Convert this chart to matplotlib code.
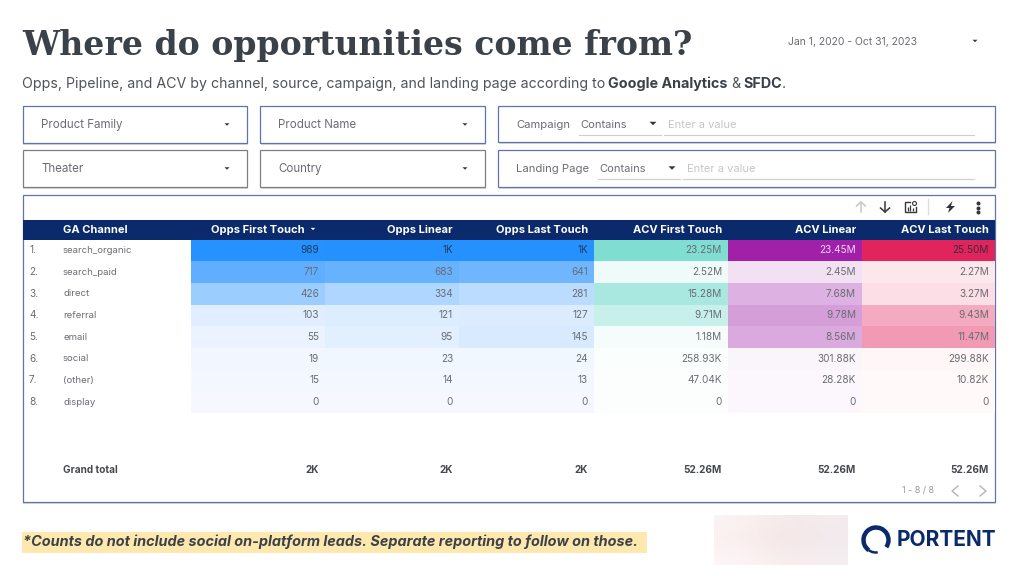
import numpy as np
import matplotlib
matplotlib.use("Agg")
import matplotlib.pyplot as plt
from matplotlib.colors import LinearSegmentedColormap
from matplotlib.patches import Rectangle, Polygon, Arc

# table data
channels = ["search_organic", "search_paid", "direct", "referral", "email", "social", "(other)", "display"]
headers = ["Opps First Touch", "Opps Linear", "Opps Last Touch", "ACV First Touch", "ACV Linear", "ACV Last Touch"]
opps_first = [989, 717, 426, 103, 55, 19, 15, 0]
opps_linear = [1000, 683, 334, 121, 95, 23, 14, 0]
opps_last = [1000, 641, 281, 127, 145, 24, 13, 0]
acv_first = [23.25, 2.52, 15.28, 9.71, 1.18, 0.25893, 0.04704, 0]
acv_linear = [23.45, 2.45, 7.68, 9.78, 8.56, 0.30188, 0.02828, 0]
acv_last = [25.50, 2.27, 3.27, 9.43, 11.47, 0.29988, 0.01082, 0]
opps_first_lab = ["989", "717", "426", "103", "55", "19", "15", "0"]
opps_linear_lab = ["1K", "683", "334", "121", "95", "23", "14", "0"]
opps_last_lab = ["1K", "641", "281", "127", "145", "24", "13", "0"]
acv_first_lab = ["23.25M", "2.52M", "15.28M", "9.71M", "1.18M", "258.93K", "47.04K", "0"]
acv_linear_lab = ["23.45M", "2.45M", "7.68M", "9.78M", "8.56M", "301.88K", "28.28K", "0"]
acv_last_lab = ["25.50M", "2.27M", "3.27M", "9.43M", "11.47M", "299.88K", "10.82K", "0"]
totals = ["2K", "2K", "2K", "52.26M", "52.26M", "52.26M"]

columns = [opps_first, opps_linear, opps_last, acv_first, acv_linear, acv_last]
column_labels = [opps_first_lab, opps_linear_lab, opps_last_lab, acv_first_lab, acv_linear_lab, acv_last_lab]
column_colors = [("#F5F9FF", "#2491FF")] * 3 + [("#FBFEFD", "#7FDDD2"), ("#FBF7FC", "#A020A8"), ("#FFF9FA", "#E2245C")]

# layout in pixels
col_edges = [191, 325, 459, 594, 728, 862, 995]
row_edges = np.linspace(239.5, 413, 9)

BODY = "Inter"
DARK = "#3A4149"
GREY = "#6A6D73"
BLUE = "#5F74A8"
NAVY = "#0B2A6B"
ICON = "#33383E"

fig = plt.figure(figsize=(10.24, 5.76), dpi=100)
ax = fig.add_axes([0, 0, 1, 1])
ax.axis("off")


def label(x, y, s, size=8, color=GREY, ha="left", weight="normal", family=BODY, **kw):
    return ax.text(x, y, s, fontsize=size, color=color, ha=ha, va="center", fontweight=weight, family=family, **kw)


def box(x0, y0, x1, y1, edge=BLUE):
    ax.add_patch(Rectangle((x0 + 0.5, y0 + 1.5), x1 - x0, y1 - y0, fc="#DADADA", ec="none", zorder=1))
    ax.add_patch(Rectangle((x0, y0), x1 - x0, y1 - y0, fc="white", ec=edge, lw=0.9, zorder=2))


def caret(x, y, w=2.5, color=ICON):
    ax.add_patch(Polygon([(x - w, y - w / 2), (x + w, y - w / 2), (x, y + w / 2)], fc=color, ec="none", zorder=5))


def arrow(x, y_tail, y_tip, color):
    head = 4 if y_tip > y_tail else -4
    ax.plot([x, x], [y_tail, y_tip], color=color, lw=1.1, zorder=5)
    ax.plot([x - 4.5, x, x + 4.5], [y_tip - head, y_tip, y_tip - head], color=color, lw=1.1, zorder=5)


# title block
label(22, 45.5, "Where do opportunities come from?", size=23.9, color=DARK, weight="bold", family="DejaVu Serif")
label(22, 84, "Opps, Pipeline, and ACV by channel, source, campaign, and landing page according to", size=10.2, color="#505459")
label(608, 84, "Google Analytics", size=10.3, color=DARK, weight="bold")
label(731, 84, "&", size=10.3, color="#505459")
label(743.5, 84, "SFDC", size=10.3, color=DARK, weight="bold")
label(782, 84, ".", size=10.3, color="#505459")
label(788, 42, "Jan 1, 2020 - Oct 31, 2023", size=7.5)
caret(975, 41)

# filter boxes
for x0, x1, y0, y1, name, edge in [(22.5, 247, 106, 143, "Product Family", BLUE), (260, 485, 106, 143, "Product Name", BLUE),
                                   (22.5, 247, 150, 187, "Theater", "#7C7F86"), (260, 485, 150, 187, "Country", "#7C7F86")]:
    box(x0, y0, x1, y1, edge)
    label(x0 + 18.5, (y0 + y1) / 2 + 0.5, name, size=8.3, zorder=5)
    caret(x1 - 20, (y0 + y1) / 2)

for y0, y1, name, sel_x in [(105.5, 142, "Campaign", 580), (150, 187, "Landing Page", 599)]:
    box(498, y0, 995, y1)
    label(516.5, y0 + 19, name, size=8.1, zorder=5)
    label(sel_x, y0 + 19, "Contains", zorder=5)
    caret(sel_x + 73, y0 + 18, w=3.5)
    ax.plot([sel_x - 1, sel_x + 81], [y0 + 29, y0 + 29], color="#CFCFCF", lw=0.8, zorder=5)
    ax.plot([sel_x + 84, 974], [y0 + 29, y0 + 29], color="#CFCFCF", lw=0.8, zorder=5)
    label(sel_x + 88, y0 + 19, "Enter a value", color="#C6C6C6", zorder=5)

# table frame and header
box(22.5, 195, 995, 502)
ax.add_patch(Rectangle((23, 219.5), 972, 20, fc=NAVY, ec="none", zorder=3))
label(63, 230, "GA Channel", size=8, color="white", weight="bold", zorder=5)
for i, name in enumerate(headers):
    x = col_edges[i + 1] - 6
    if i == 0:
        x -= 14
        caret(313, 229, w=2.3, color="white")
    label(x, 230, name, size=8, color="white", weight="bold", ha="right", zorder=5)

# heatmap columns
for i, vals in enumerate(columns):
    cmap = LinearSegmentedColormap.from_list("c%d" % i, column_colors[i])
    vmax = 1000 if i < 3 else max(vals)
    ax.pcolormesh([col_edges[i], col_edges[i + 1]], row_edges, np.array(vals).reshape(-1, 1),
                  cmap=cmap, vmin=0, vmax=vmax, zorder=3, shading="flat")
    for j, s in enumerate(column_labels[i]):
        color = GREY
        if j == 0:
            color = "#1F3A5C" if i < 3 else {3: GREY, 4: "#F0D8F2", 5: "#3C2A40"}[i]
        label(col_edges[i + 1] - 6, (row_edges[j] + row_edges[j + 1]) / 2, s, size=7.2, color=color, ha="right", zorder=5)
    label(col_edges[i + 1] - 6, 470, totals[i], size=7.2, color="#45484D", weight="bold", ha="right", zorder=5)

for j, name in enumerate(channels):
    y = (row_edges[j] + row_edges[j + 1]) / 2
    label(29, y, "%d." % (j + 1), size=7.2, zorder=5)
    label(63, y, name, size=6.9, zorder=5)
label(63, 470, "Grand total", size=7.2, color="#45484D", weight="bold", zorder=5)

# toolbar icons
arrow(861, 212, 202, "#C8C8C8")
arrow(885, 202, 212, ICON)
ax.plot([910, 904.5, 904.5, 916, 916], [201.5, 201.5, 212, 212, 207], color=ICON, lw=1, zorder=5)
ax.vlines([907.5, 910, 912.5], [207, 205, 208], [210.5, 210.5, 210.5], color=ICON, lw=0.9, zorder=5)
ax.scatter([914], [203], s=8, fc="white", ec=ICON, lw=0.8, zorder=5)
ax.plot([927.5, 927.5], [199, 214], color="#DDDDDD", lw=1, zorder=5)
ax.add_patch(Polygon([(952.5, 201), (946, 208), (949.5, 208), (948, 213), (955, 206), (951, 206)], fc="#2F343A", ec="none", zorder=5))
ax.scatter([977.5] * 3, [203, 207.5, 212], s=3.5, color=ICON, zorder=5)

# pager
label(902, 491, "1 - 8 / 8", size=6.5, color="#9A9A9A", zorder=5)
ax.plot([958, 952, 958], [486, 491, 496], color="#B5B5B5", lw=1, zorder=5)
ax.plot([980, 986, 980], [486, 491, 496], color="#B5B5B5", lw=1, zorder=5)

# footnote
ax.add_patch(Rectangle((22, 532), 625, 21, fc="#FFE8AE", ec="none", zorder=1))
label(23, 541.5, "*Counts do not include social on-platform leads. Separate reporting to follow on those.",
      size=10.4, color=DARK, weight="bold", style="italic", zorder=5)

# blurred patch next to the logo
blur = np.array([[[251, 244, 244], [246, 232, 232], [243, 236, 238]],
                 [[250, 240, 240], [245, 228, 228], [241, 234, 237]],
                 [[253, 247, 247], [248, 236, 236], [245, 239, 241]]], dtype=np.uint8)
ax.imshow(blur, extent=(714, 848, 565, 515), aspect="auto", interpolation="bicubic", zorder=1)

# logo
ax.add_patch(Arc((876, 540), 25, 25, theta1=125, theta2=35, lw=3.2, color=NAVY, zorder=5))
ax.add_patch(Arc((876, 540), 25, 25, theta1=82, theta2=126, lw=1.8, color=NAVY, zorder=5))
label(897, 540.5, "PORTENT", size=15, color=NAVY, weight="bold", zorder=5)

ax.set_xlim(0, 1024)
ax.set_ylim(576, 0)
fig.savefig("out.png", dpi=100, facecolor="white")
